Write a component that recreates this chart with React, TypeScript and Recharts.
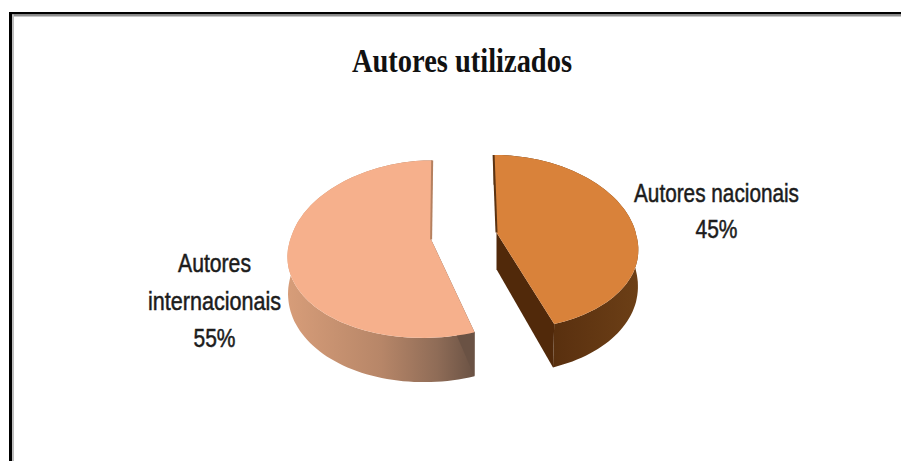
import React from 'react';
import { PieChart, Pie } from 'recharts';

const categories = ['Autores nacionais', 'Autores internacionais'];
const shares = [45, 55];
const labelLines = [
  ['Autores nacionais', '45%'],
  ['Autores', 'internacionais', '55%'],
];
const titleText = 'Autores utilizados';

const topColors = ['#d9823a', '#f6b08c'];
const wallStops = [
  [['0', '#482606'], ['0.5', '#5c3210'], ['1', '#6c3f16']],
  [['0', '#d79d79'], ['0.5', '#b78668'], ['0.8', '#8f6c57'], ['1', '#6a5244']],
];
const edgeColors = ['#5b3312', '#b5805f'];

const chartData = categories.map((name, i) => ({ name, value: shares[i] }));

// Tilted-disc projection used for the pie faces
const CX = 464;
const CY = 236;
const RADIUS = 140;
const FLATTEN = 88;
const BULGE = 0.11;
const FAN = 0.15;
const EXPLODE = 0.236;
const SPREAD = 3;
const RAD = Math.PI / 180;

const project = (u: number, v: number, side: number) => ({
  x: CX + u * RADIUS * (1 + FAN * v) + side * SPREAD * Math.abs(v),
  y: CY + FLATTEN * (v + BULGE * v * v),
});

const drop = (u: number, v: number, side: number) => {
  const p = project(u, v, side);
  const shrink = 1 - 0.015 * Math.max(0, v);
  return { x: CX + (p.x - CX) * shrink, y: p.y + 37 + 7 * v };
};

const toPath = (pts: { x: number; y: number }[]) =>
  'M' + pts.map((p) => `${p.x.toFixed(1)},${p.y.toFixed(1)}`).join('L') + 'Z';

const Slice3D = (props: any) => {
  const { startAngle, endAngle, index } = props;
  const i: number = index ?? (props.name === categories[0] ? 0 : 1);
  const mid = ((startAngle + endAngle) / 2) * RAD;
  const eu = EXPLODE * Math.cos(mid);
  const ev = -EXPLODE * Math.sin(mid);
  const side = Math.sign(eu);
  const steps = Math.ceil(Math.abs(startAngle - endAngle) / 2);
  const arc: [number, number][] = [];
  for (let s = 0; s <= steps; s++) {
    const t = (startAngle + ((endAngle - startAngle) * s) / steps) * RAD;
    arc.push([eu + Math.cos(t), ev - Math.sin(t)]);
  }
  const top = arc.map(([u, v]) => project(u, v, side));
  const bottom = arc.map(([u, v]) => drop(u, v, side));
  const apex = project(eu, ev, side);
  const apexDrop = drop(eu, ev, side);
  const last = arc.length - 1;
  const id = `wall-${i}`;
  // The slice's near cut face only shows on the slice whose arc ends at the front
  const cutEnd = i === 0 ? last : 0;
  const rear = top[i === 0 ? 0 : last];
  return (
    <g>
      <defs>
        <linearGradient id={id} x1="0" y1="0" x2="1" y2="0">
          {wallStops[i].map(([o, c]) => (
            <stop key={o} offset={o} stopColor={c} />
          ))}
        </linearGradient>
      </defs>
      <path d={toPath([...top, ...[...bottom].reverse()])} fill={`url(#${id})`} />
      <path d={toPath([apex, top[cutEnd], bottom[cutEnd], apexDrop])} fill={i === 0 ? '#51290a' : '#6a5244'} />
      <path d={toPath([apex, ...top])} fill={topColors[i]} />
      <path d={`M${rear.x},${rear.y}L${apex.x},${apex.y}`} stroke={edgeColors[i]} strokeWidth={2} fill="none" />
    </g>
  );
};

// Text block beside each slice: x centre and first baseline relative to the pie centre
const labelAnchors = [
  { dx: 252.5, dy: -34, widths: [165, 42], gap: 36 },
  { dx: -249.5, dy: 36, widths: [73, 133, 42], gap: 37.5 },
];

const SliceLabel = (props: any) => {
  const i: number = props.index;
  const a = labelAnchors[i];
  return (
    <g>
      {labelLines[i].map((line, n) => (
        <text
          key={line}
          x={CX + a.dx}
          y={CY + a.dy + n * a.gap}
          textAnchor="middle"
          fontFamily="'Liberation Sans', sans-serif"
          fontSize={25}
          fill="#1c1c1c"
          stroke="#1c1c1c"
          strokeWidth={0.5}
          textLength={a.widths[n]}
          lengthAdjust="spacingAndGlyphs"
        >
          {line}
        </text>
      ))}
    </g>
  );
};

export default function App() {
  return (
    <div style={{ position: 'absolute', left: 0, top: 0, width: 901, height: 461, background: '#fff' }}>
      <PieChart width={901} height={461} margin={{ top: 0, right: 0, bottom: 0, left: 0 }}>
        <rect x={9} y={12} width={892} height={2.5} fill="#000" />
        <rect x={12} y={14.5} width={889} height={2} fill="#8f8f8f" />
        <rect x={9} y={12} width={3} height={449} fill="#000" />
        <rect x={12} y={14.5} width={2} height={447} fill="#bdbdbd" />
        <text
          x={462}
          y={72}
          textAnchor="middle"
          fontFamily="'Liberation Serif', serif"
          fontWeight="bold"
          fontSize={34}
          fill="#111"
          textLength={220}
          lengthAdjust="spacingAndGlyphs"
        >
          {titleText}
        </text>
        <Pie
          data={chartData}
          dataKey="value"
          nameKey="name"
          cx={CX}
          cy={CY}
          outerRadius={RADIUS}
          startAngle={90.5}
          endAngle={-269.5}
          paddingAngle={0}
          stroke="none"
          isAnimationActive={false}
          shape={Slice3D}
          label={SliceLabel}
          labelLine={false}
        />
      </PieChart>
    </div>
  );
}
